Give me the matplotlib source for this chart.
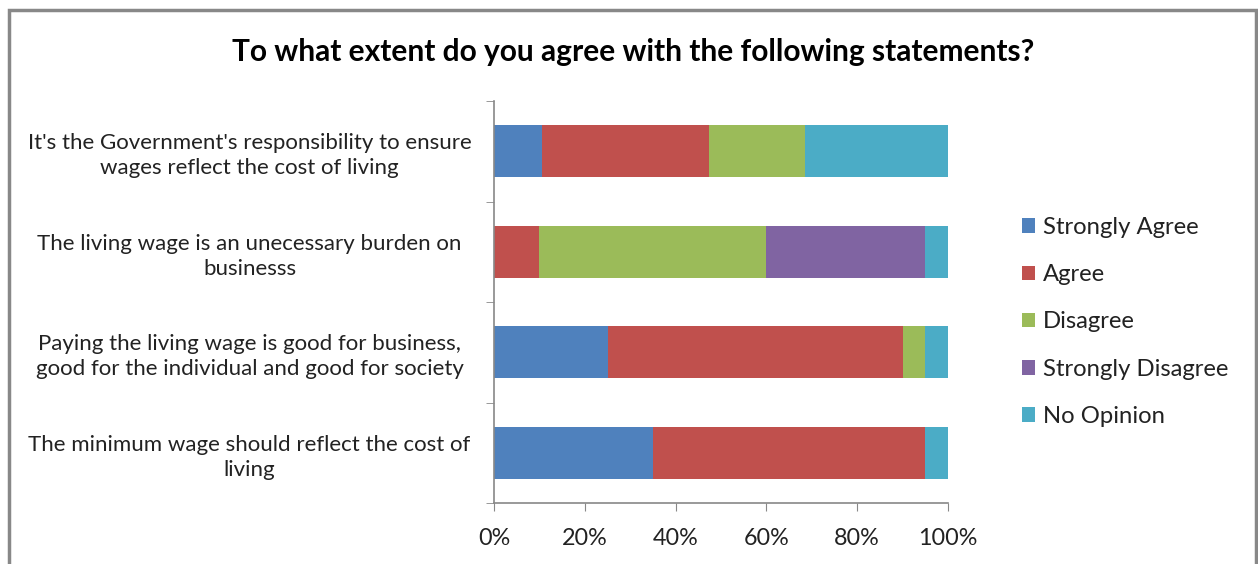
import matplotlib
matplotlib.use("Agg")
import matplotlib.pyplot as plt
from matplotlib.patches import Rectangle
import numpy as np

categories = [
    "It's the Government's responsibility to ensure\nwages reflect the cost of living",
    "The living wage is an unecessary burden on\nbusinesss",
    "Paying the living wage is good for business,\ngood for the individual and good for society",
    "The minimum wage should reflect the cost of\nliving",
]
series_names = ["Strongly Agree", "Agree", "Disagree", "Strongly Disagree", "No Opinion"]
strongly_agree = [10.5, 0, 25, 35]
agree = [36.8, 10, 65, 60]
disagree = [21.1, 50, 5, 0]
strongly_disagree = [0, 35, 0, 0]
no_opinion = [31.6, 5, 5, 5]
colors = ["#4F81BD", "#C0504D", "#9BBB59", "#8064A2", "#4BACC6"]
xtick_labels = ["0%", "20%", "40%", "60%", "80%", "100%"]

plt.rcParams['font.family'] = ['Lato', 'DejaVu Sans']

fig = plt.figure(figsize=(12.58, 5.64), dpi=100)
ax = fig.add_axes([494/1258, 1-503/564, (948-494)/1258, (503-101)/564])

data = [strongly_agree, agree, disagree, strongly_disagree, no_opinion]
y = np.arange(len(categories))
left = np.zeros(len(categories))
handles = []
for name, vals, c in zip(series_names, data, colors):
    vals = np.array(vals, dtype=float)
    h = ax.barh(y, vals, left=left, height=0.52, color=c, label=name, linewidth=0)
    handles.append(h)
    left += vals

ax.set_xlim(0, 100)
ax.set_ylim(3.5, -0.5)
ax.set_xticks([0, 20, 40, 60, 80, 100])
ax.set_xticklabels(xtick_labels, fontsize=16.8, color="#222222")
ax.set_yticks(y)
ax.set_yticklabels(categories, fontsize=16, color="#222222", ha="center",
                   multialignment="center", linespacing=1.3)
ax.tick_params(axis="y", length=0, pad=176)
ax.set_yticks(np.arange(-0.5, 4.0, 1.0), minor=True)
ax.tick_params(axis="y", which="minor", length=6, color="#888888", direction="out")
ax.tick_params(axis="x", length=6, color="#888888", direction="out", pad=12)
for s in ["top", "right"]:
    ax.spines[s].set_visible(False)
for s in ["left", "bottom"]:
    ax.spines[s].set_color("#888888")
    ax.spines[s].set_linewidth(1.2)

fig.text(633/1258, 1-52/564, "To what extent do you agree with the following statements?",
         ha="center", va="center", fontsize=21.5, fontweight="bold", color="#000000")

leg = fig.legend(handles=handles, labels=series_names, loc="center left",
                 bbox_to_anchor=(1000/1258, 1-322/564), frameon=False, fontsize=17.2,
                 handlelength=0.55, handleheight=0.55, handletextpad=0.35, labelspacing=1.1)
for t in leg.get_texts():
    t.set_color("#222222")

fig.patches.append(Rectangle((9/1258, -0.05), (1256-9)/1258, 1.05 - 9.5/564,
                             transform=fig.transFigure, fill=False,
                             edgecolor="#888888", linewidth=2.5, figure=fig))

fig.savefig("out.png", dpi=100)
